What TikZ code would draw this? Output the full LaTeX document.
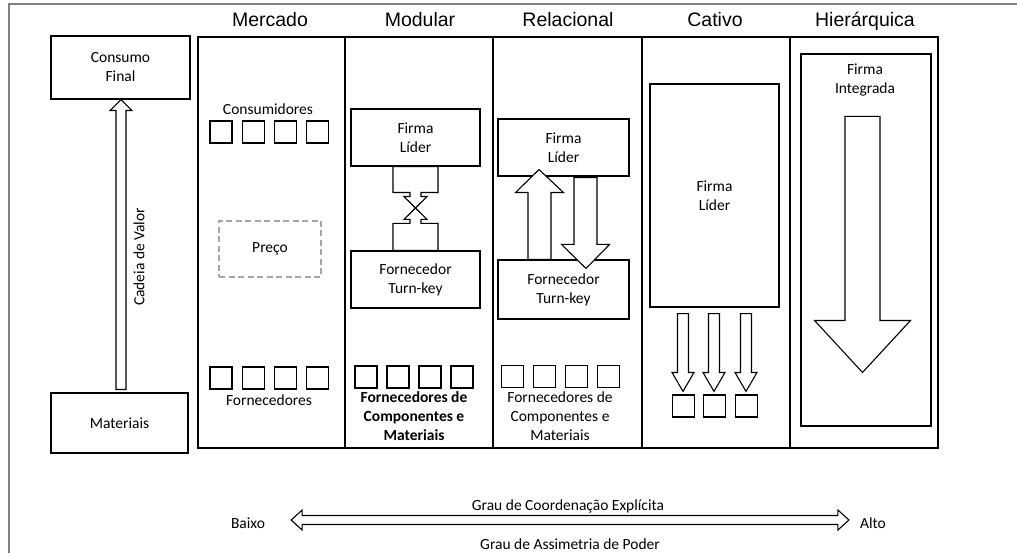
\documentclass[tikz,border=0pt]{standalone}
\usepackage{fontspec}
\setmainfont{Carlito}
\newfontfamily\titlefont{Liberation Sans}
\usetikzlibrary{calc}

\newcommand{\lblfont}{\fontsize{15.5}{19}\selectfont}
\newcommand{\hdfont}{\titlefont\fontsize{19.5}{23}\selectfont}

% vertical block arrow: tail, tip, shaft half width, head half width, head length
\newcommand{\vblockarrow}[5]{%
  \filldraw[blockarrow] let \p1=(#1), \p2=(#2), \n1={(\y2-\y1)/abs(\y2-\y1)} in
    ({\x1-#3},\y1) -- ({\x1-#3},{\y2-(\n1)*#5}) -- ({\x1-#4},{\y2-(\n1)*#5}) -- (\x2,\y2)
    -- ({\x1+#4},{\y2-(\n1)*#5}) -- ({\x1+#3},{\y2-(\n1)*#5}) -- ({\x1+#3},\y1) -- cycle;}

% stepped arrow: tail, tip, block half width, block length, neck half width,
% neck end (from tail), head half width
\newcommand{\steparrow}[7]{%
  \filldraw[blockarrow] let \p1=(#1), \p2=(#2), \n1={(\y2-\y1)/abs(\y2-\y1)} in
    ({\x1-#3},\y1) -- ({\x1-#3},{\y1+(\n1)*#4}) -- ({\x1-#5},{\y1+(\n1)*#4})
    -- ({\x1-#5},{\y1+(\n1)*#6}) -- ({\x1-#7},{\y1+(\n1)*#6}) -- (\x2,\y2)
    -- ({\x1+#7},{\y1+(\n1)*#6}) -- ({\x1+#5},{\y1+(\n1)*#6}) -- ({\x1+#5},{\y1+(\n1)*#4})
    -- ({\x1+#3},{\y1+(\n1)*#4}) -- ({\x1+#3},\y1) -- cycle;}

\begin{document}
\begin{tikzpicture}[x=1pt,y=-1pt,
  frame/.style={draw=black!50, line width=1.1pt},
  colbox/.style={draw, line width=1.1pt, minimum height=411pt, inner sep=0pt},
  box/.style={draw, line width=1.1pt, fill=white, inner sep=0pt, align=center, font=\lblfont},
  dashbox/.style={draw=black!35, line width=1.4pt, dash pattern=on 6pt off 3.5pt,
    inner sep=0pt, font=\lblfont},
  sq/.style={draw, line width=1.1pt, minimum size=22pt, inner sep=0pt},
  lbl/.style={font=\lblfont, inner sep=0pt, align=center},
  heading/.style={font=\hdfont, inner sep=0pt, anchor=base},
  blockarrow/.style={draw, fill=white, line width=1.1pt, line join=miter}]
\useasboundingbox (0,0) rectangle (1017,553);

% outer frame
\draw[frame] (9,553) -- (9,4) -- (1017,4);

% value chain on the left
\node[box, minimum width=139pt, minimum height=63pt] (consumo) at (120.5,67.5) {Consumo\\Final};
\node[box, minimum width=137pt, minimum height=60pt] (materiais) at (119.5,423) {Materiais};
\coordinate (vcTail) at ($(materiais.north)+(1.5,-3)$);
\coordinate (vcTip) at ($(consumo.south)+(0.5,0)$);
\vblockarrow{vcTail}{vcTip}{5}{11}{11}
\node[lbl, rotate=90] (cadeia) at (139,257) {Cadeia de Valor};

% governance columns
\node[colbox, minimum width=147pt] (colMercado) at (271.5,242.5) {};
\node[colbox, minimum width=148pt] (colModular) at (419,242.5) {};
\node[colbox, minimum width=149pt] (colRelacional) at (567.5,242.5) {};
\node[colbox, minimum width=148pt] (colCativo) at (716,242.5) {};
\node[colbox, minimum width=148pt] (colHier) at (864,242.5) {};

\node[heading] (tMercado) at ($(colMercado.north)+(-1.5,-9.5)$) {Mercado};
\node[heading] (tModular) at ($(colModular.north)+(1,-9.5)$) {Modular};
\node[heading] (tRelacional) at ($(colRelacional.north)+(0.5,-9.5)$) {Relacional};
\node[heading] (tCativo) at ($(colCativo.north)+(-1,-9.5)$) {Cativo};
\node[heading] (tHier) at ($(colHier.north)+(1,-9.5)$) {Hierárquica};

% Mercado
\node[lbl, anchor=base] (consumidores) at (268,115) {Consumidores};
\foreach \i in {0,...,3} {
  \node[sq] (mc\i) at (221+32.2*\i,132) {};
  \node[sq] (mf\i) at (221+32.2*\i,378) {};
}
\node[dashbox, minimum width=102pt, minimum height=56pt] (preco) at (270,249) {Preço};
\node[lbl, anchor=base] (fornecedores) at (269,405) {Fornecedores};

% Modular
\node[box, minimum width=129pt, minimum height=57pt] (firmaMod) at (415.5,137.5) {Firma\\Líder};
\node[box, minimum width=129pt, minimum height=57pt] (fornMod) at (415.5,279.5) {Fornecedor\\Turn-key};
\coordinate (modMeet) at (415.5,208);
\steparrow{firmaMod.south}{modMeet}{22.5}{26}{5.5}{30}{11.5}
\steparrow{fornMod.north}{modMeet}{22.5}{27}{5.5}{31}{11.5}
\foreach \i in {0,...,3} { \node[sq] (ms\i) at (366+32*\i,377) {}; }
\node[lbl, font=\lblfont\bfseries] (modForn) at (414,416.5) {Fornecedores de\\Componentes e\\Materiais};

% Relacional
\node[box, minimum width=131pt, minimum height=57pt] (firmaRel) at (563.5,147.5) {Firma\\Líder};
\node[box, minimum width=131pt, minimum height=59pt] (fornRel) at (563.5,289.5) {Fornecedor\\Turn-key};
\coordinate (relUpTail) at ($(fornRel.north)+(-24,0)$);
\coordinate (relUpTip) at ($(firmaRel.south)+(-24.5,-7)$);
\coordinate (relDnTail) at ($(firmaRel.south)+(22,1)$);
\coordinate (relDnTip) at ($(fornRel.north)+(22.5,9)$);
\vblockarrow{relUpTail}{relUpTip}{11.5}{24}{23}
\vblockarrow{relDnTail}{relDnTip}{11.5}{24}{24}
\foreach \i in {0,...,3} { \node[sq] (rs\i) at (512.5+32.1*\i,376.5) {}; }
\node[lbl] (relForn) at (560,416.5) {Fornecedores de\\Componentes e\\Materiais};

% Cativo
\node[box, minimum width=129pt, minimum height=223pt] (firmaCat) at (714.5,195.5) {Firma\\Líder};
\foreach \x [count=\i] in {683.5,714.5,746.5} {
  \node[sq] (cs\i) at (\x,406) {};
  \coordinate (catTail\i) at ($(firmaCat.south -| cs\i.north)+(-0.5,6)$);
  \coordinate (catTip\i) at ($(cs\i.north)+(-0.5,-3)$);
  \vblockarrow{catTail\i}{catTip\i}{5.5}{11}{19}
}

% Hierarquica
\node[box, minimum width=130pt, minimum height=372pt] (integ) at (866,240) {};
\node[lbl] (integLbl) at (865,80.5) {Firma\\Integrada};
\coordinate (hierTail) at ($(integ.north)+(-3.5,63)$);
\coordinate (hierTip) at ($(integ.north)+(-3.5,319)$);
\vblockarrow{hierTail}{hierTip}{17.5}{48}{52}

% scale of coordination and power asymmetry
\node[lbl, anchor=base] (baixo) at (248,528.3) {Baixo};
\node[lbl, anchor=base] (alto) at (873,528.3) {Alto};
\coordinate (lowTip) at ($(baixo.east)+(26,-3)$);
\coordinate (highTip) at ($(alto.west)+(-11,-3)$);
\filldraw[blockarrow] let \p1=(lowTip), \p2=(highTip) in
  (\x1,\y1) -- ({\x1+11},{\y1+10}) -- ({\x1+11},{\y1+4.5}) -- ({\x2-11},{\y1+4.5}) -- ({\x2-11},{\y1+10})
  -- (\x2,\y2) -- ({\x2-11},{\y1-10}) -- ({\x2-11},{\y1-4.5}) -- ({\x1+11},{\y1-4.5}) -- ({\x1+11},{\y1-10}) -- cycle;
\node[lbl, anchor=base] (coord) at (568,510.7) {Grau de Coordenação Explícita};
\node[lbl, anchor=base] (assim) at (570,549.3) {Grau de Assimetria de Poder};
\end{tikzpicture}
\end{document}
